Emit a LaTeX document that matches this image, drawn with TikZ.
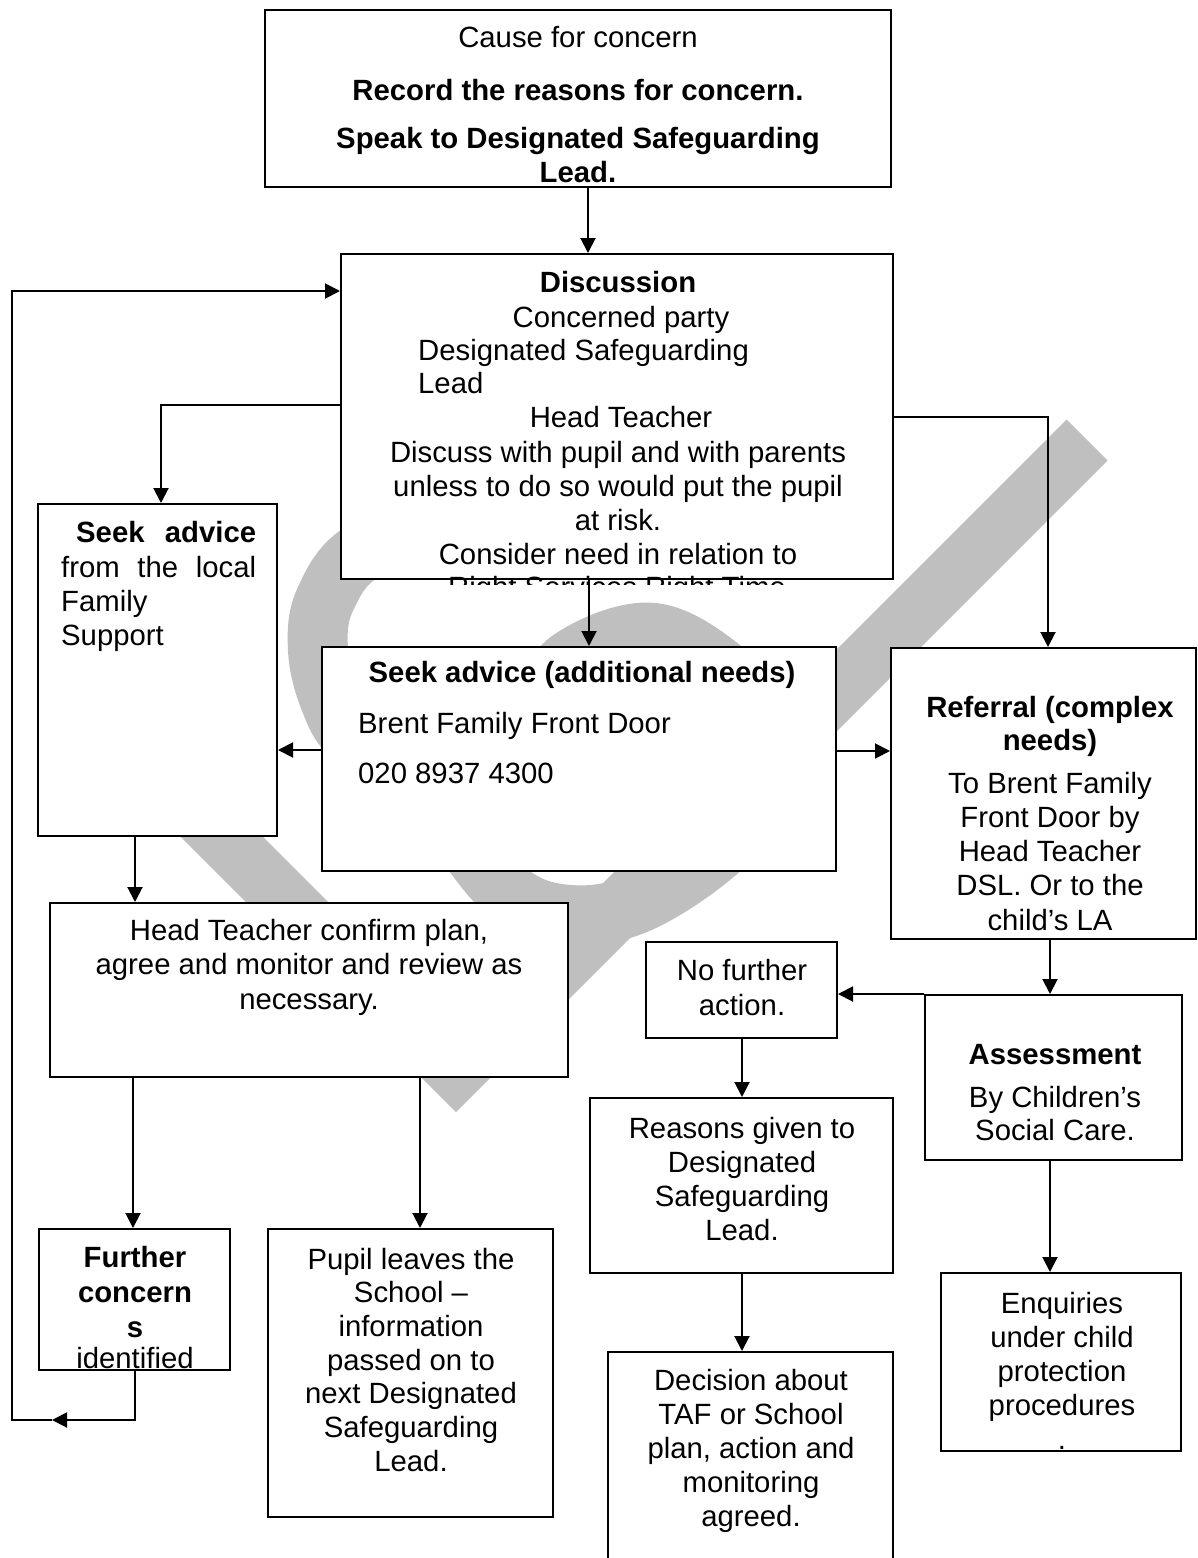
\documentclass[tikz,border=0pt]{standalone}
\usepackage{fontspec}
\setmainfont{Liberation Sans}
\usetikzlibrary{arrows.meta,fit}
\definecolor{wm}{gray}{0.75}
\tikzset{
  box/.style={draw, line width=2pt, fill=white, inner sep=0pt},
  txt/.style={anchor=base, inner sep=0pt, font=\fontsize{29.3}{34}\selectfont},
  txtl/.style={txt, anchor=base west},
  arr/.style={line width=2pt, -{Triangle[length=15pt,width=15pt]}},
}
\newcommand\tlines[5]{\foreach \mytl [count=\myi] in {#5}{\node[txt] (#1\myi) at ({#2},{#3+(\myi-1)*#4}) {\mytl};}}
\begin{document}
\begin{tikzpicture}[x=1pt,y=-1pt]
\useasboundingbox (0,0) rectangle (1197,1558);
\fill[white] (0,0) rectangle (1197,1558);
% watermark
\draw[wm, line width=58pt, line join=miter] (120,735) -- (456,1071) -- (1087,440);
\draw[wm, line width=60pt] plot[smooth, tension=0.6] coordinates {(470,515) (365,550) (325,600) (318,650) (330,700) (355,740) (435,805) (505,890) (570,915) (645,900) (735,835) (790,750) (735,680) (654,633) (570,660) (535,715)};
% boxes
\node[box, fit={(265,10) (891,187)}] (cause) {};
\node[box, fit={(341,254) (893,579)}] (disc) {};
\node[box, fit={(38,504) (277,836)}] (seekL) {};
\node[box, fit={(322,647) (836,871)}] (add) {};
\node[box, fit={(891,648) (1196,939)}] (ref) {};
\node[box, fit={(50,903) (568,1077)}] (head) {};
\node[box, fit={(646,942) (837,1038)}] (nfa) {};
\node[box, fit={(925,995) (1182,1160)}] (assess) {};
\node[box, fit={(590,1098) (893,1273)}] (reasons) {};
\node[box, fit={(608,1352) (893,1590)}] (decision) {};
\node[box, fit={(941,1273) (1181,1451)}] (enq) {};
\node[box, fit={(268,1229) (553,1517)}] (pupil) {};
\node[box, fit={(39,1229) (230,1370)}] (further) {};
% texts
\node[txt] (c1) at (578,47) {Cause for concern};
\node[txt] (c2) at (578,100) {\bfseries Record the reasons for concern.};
\node[txt] (c3) at (578,148) {\bfseries Speak to Designated Safeguarding};
\node[txt] (c4) at (578,182) {\bfseries Lead.};
\node[txt] (d1) at (618,292) {\bfseries Discussion};
\node[txt] (d2) at (621,327) {Concerned party};
\node[txtl] (d3) at (418,360) {Designated Safeguarding};
\node[txtl] (d4) at (418,393) {Lead};
\node[txt] (d5) at (621,427) {Head Teacher};
\tlines{dd}{618}{462}{34}{Discuss with pupil and with parents, unless to do so would put the pupil, at risk., Consider need in relation to}
\begin{scope}
\clip (345,560) rectangle (890,584);
\node[txt] (d6) at (617,597) {Right Services Right Time};
\end{scope}
\node[txtl] (s1) at (76,542) {\makebox[180pt]{\bfseries Seek\hfill advice}};
\node[txtl] (s2) at (61,577) {\makebox[195pt]{from\hfill the\hfill local}};
\node[txtl] (s3) at (61,611) {Family};
\node[txtl] (s4) at (61,645) {Support};
\node[txt] (a1) at (582,682) {\bfseries Seek advice (additional needs)};
\node[txtl] (a2) at (358,733) {Brent Family Front Door};
\node[txtl] (a3) at (358,783) {020 8937 4300};
\node[txt] (r1) at (1050,717) {\bfseries Referral (complex};
\node[txt] (r2) at (1050,750) {\bfseries needs)};
\tlines{rr}{1050}{793}{34.3}{To Brent Family, Front Door by, Head Teacher, DSL. Or to the, child’s LA}
\tlines{h}{309}{940}{34.5}{{Head Teacher confirm plan,}, agree and monitor and review as, necessary.}
\tlines{n}{742}{980}{35}{No further, action.}
\node[txt] (as1) at (1055,1064) {\bfseries Assessment};
\node[txt] (as2) at (1055,1107) {By Children’s};
\node[txt] (as3) at (1055,1140) {Social Care.};
\tlines{re}{742}{1138}{34}{Reasons given to, Designated, Safeguarding, Lead.}
\tlines{de}{751}{1390}{34}{Decision about, TAF or School, {plan, action and}, monitoring, agreed.}
\tlines{e}{1062}{1313}{34}{Enquiries, under child, protection, procedures, .}
\tlines{p}{411}{1269}{33.7}{Pupil leaves the, School –, information, passed on to, next Designated, Safeguarding, Lead.}
\tlines{f}{135}{1267}{35}{\bfseries Further, \bfseries concern, \bfseries s}
\node[txt] (f4) at (135,1368) {identified};
% connectors
\draw[arr] (cause.south -| 588,0) -- (disc.north -| 588,0);
\draw[arr] (disc.west |- 0,405) -| (seekL.north -| 161,0);
\draw[arr] (disc.east |- 0,417) -| (ref.north -| 1048,0);
\draw[arr] (disc.south -| 589,0) -- (add.north -| 589,0);
\draw[arr] (add.west |- 0,750) -- (seekL.east |- 0,750);
\draw[arr] (add.east |- 0,751) -- (ref.west |- 0,751);
\draw[arr] (seekL.south -| 135,0) -- (head.north -| 135,0);
\draw[arr] (head.south -| 133,0) -- (further.north -| 133,0);
\draw[arr] (head.south -| 420,0) -- (pupil.north -| 420,0);
\draw[arr] (ref.south -| 1050,0) -- (assess.north -| 1050,0);
\draw[arr] (assess.north west) -- (assess.north west -| nfa.east);
\draw[arr] (nfa.south -| 742,0) -- (reasons.north -| 742,0);
\draw[arr] (reasons.south -| 742,0) -- (decision.north -| 742,0);
\draw[arr] (assess.south -| 1050,0) -- (enq.north -| 1050,0);
\coordinate (lp1) at (52,1420);
\coordinate (lp2) at (12,1420);
\coordinate (lp3) at (12,291);
\draw[arr] (further.south -| 135,0) |- (lp1);
\draw[arr] (lp1) -- (lp2) -- (lp3) -- (disc.west |- lp3);
\end{tikzpicture}
\end{document}
